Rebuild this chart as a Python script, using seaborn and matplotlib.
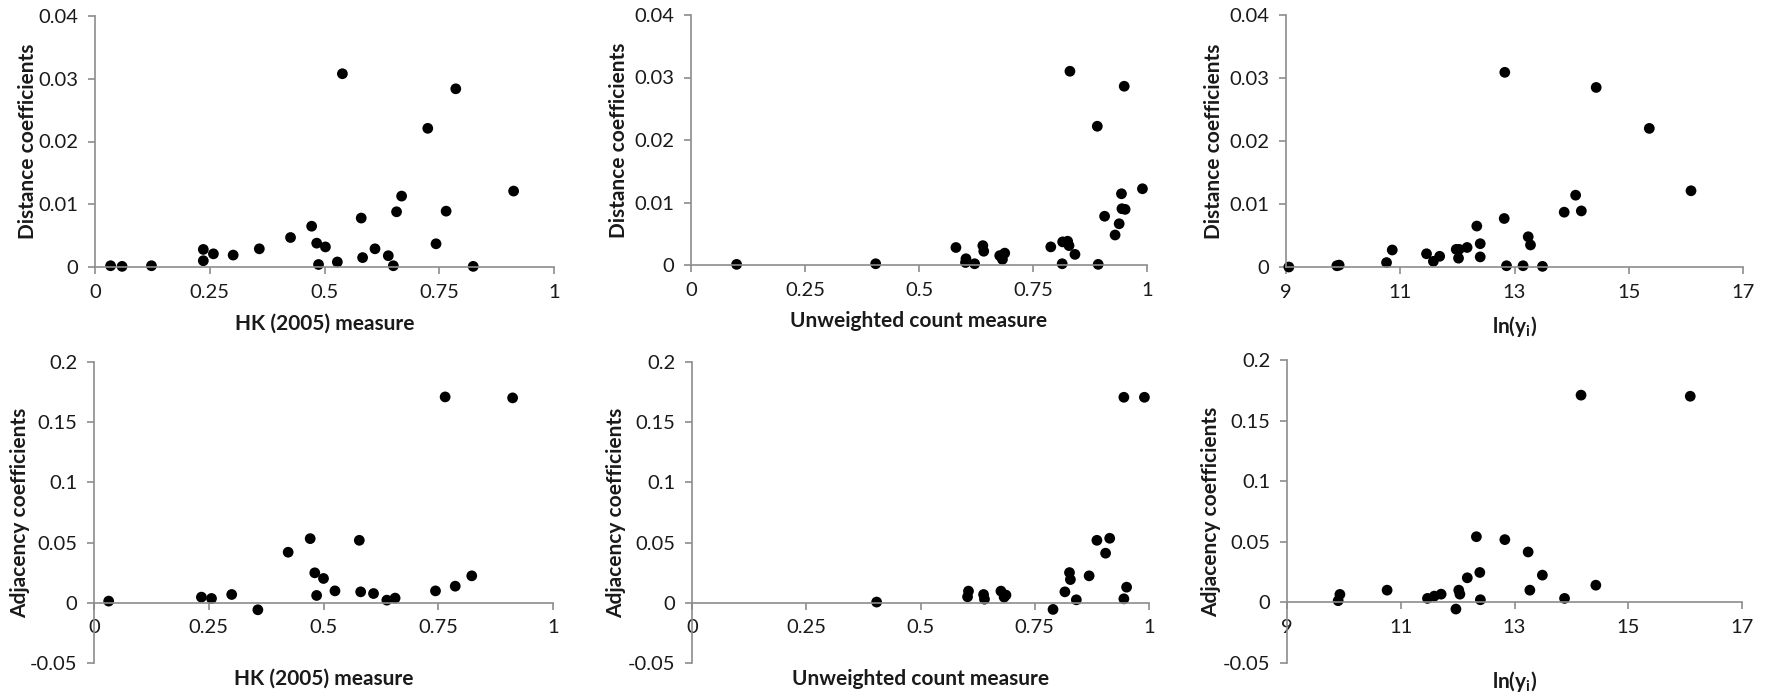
import matplotlib
matplotlib.use("Agg")
import matplotlib.pyplot as plt
import numpy as np
import pandas as pd
import seaborn as sns
from matplotlib.ticker import FuncFormatter

# top row: distance coefficients
hk_dist_x = [0.034, 0.059, 0.123, 0.236, 0.236, 0.258, 0.301, 0.358, 0.426, 0.472,
             0.483, 0.487, 0.502, 0.528, 0.539, 0.580, 0.583, 0.610, 0.639, 0.650,
             0.657, 0.668, 0.725, 0.743, 0.765, 0.786, 0.824, 0.912]
hk_dist_y = [0.0002, 0.0001, 0.0002, 0.0028, 0.0010, 0.0021, 0.0019, 0.0029, 0.0047, 0.0065,
             0.0038, 0.0004, 0.0032, 0.0008, 0.0308, 0.0078, 0.0015, 0.0029, 0.0018, 0.0002,
             0.0088, 0.0113, 0.0221, 0.0037, 0.0089, 0.0284, 0.0001, 0.0121]

cnt_dist_x = [0.100, 0.405, 0.581, 0.603, 0.602, 0.622, 0.640, 0.642, 0.677, 0.683,
              0.688, 0.789, 0.815, 0.826, 0.829, 0.814, 0.842, 0.831, 0.891, 0.893,
              0.907, 0.930, 0.939, 0.944, 0.945, 0.952, 0.950, 0.990]
cnt_dist_y = [0.0001, 0.0002, 0.0028, 0.0010, 0.0004, 0.0002, 0.0031, 0.0022, 0.0015, 0.0009,
              0.0019, 0.0029, 0.0037, 0.0038, 0.0031, 0.0002, 0.0017, 0.0310, 0.0222, 0.0001,
              0.0078, 0.0048, 0.0066, 0.0114, 0.0090, 0.0089, 0.0286, 0.0122]

lny_dist_x = [9.05, 9.89, 9.93, 10.76, 10.86, 11.46, 11.58, 11.69, 11.98, 12.03,
              12.02, 12.17, 12.34, 12.40, 12.40, 12.82, 12.83, 12.86, 13.15, 13.24,
              13.28, 13.49, 13.87, 14.07, 14.17, 14.43, 15.36, 16.09]
lny_dist_y = [0.0000, 0.0002, 0.0003, 0.0007, 0.0027, 0.0021, 0.0009, 0.0017, 0.0028, 0.0028,
              0.0014, 0.0031, 0.0065, 0.0037, 0.0016, 0.0077, 0.0309, 0.0002, 0.0002, 0.0048,
              0.0035, 0.0001, 0.0087, 0.0114, 0.0089, 0.0285, 0.0220, 0.0121]

# bottom row: adjacency coefficients
hk_adj_x = [0.032, 0.234, 0.256, 0.300, 0.357, 0.423, 0.471, 0.481, 0.485, 0.500,
            0.525, 0.578, 0.581, 0.609, 0.638, 0.656, 0.744, 0.765, 0.787, 0.823, 0.912]
hk_adj_y = [0.0014, 0.0047, 0.0036, 0.0069, -0.0058, 0.0420, 0.0533, 0.0249, 0.0061, 0.0202,
            0.0099, 0.0519, 0.0091, 0.0077, 0.0022, 0.0039, 0.0099, 0.1710, 0.0138, 0.0224, 0.1702]

cnt_adj_x = [0.404, 0.603, 0.605, 0.638, 0.640, 0.676, 0.683, 0.687, 0.790, 0.816,
             0.826, 0.828, 0.841, 0.869, 0.886, 0.905, 0.914, 0.945, 0.945, 0.951, 0.990]
cnt_adj_y = [0.0006, 0.0050, 0.0097, 0.0069, 0.0030, 0.0097, 0.0047, 0.0064, -0.0055, 0.0091,
             0.0251, 0.0193, 0.0025, 0.0224, 0.0519, 0.0412, 0.0536, 0.1707, 0.0033, 0.0130, 0.1707]

lny_adj_x = [9.90, 9.93, 10.76, 11.47, 11.59, 11.71, 11.97, 12.02, 12.04, 12.17,
             12.33, 12.39, 12.40, 12.83, 13.24, 13.27, 13.49, 13.88, 14.17, 14.43, 16.09]
lny_adj_y = [0.0014, 0.0066, 0.0101, 0.0033, 0.0052, 0.0068, -0.0055, 0.0101, 0.0068, 0.0203,
             0.0542, 0.0247, 0.0022, 0.0518, 0.0416, 0.0101, 0.0225, 0.0033, 0.1710, 0.0142, 0.1701]

hk_label = "HK (2005) measure"
cnt_label = "Unweighted count measure"
lny_label = r"ln(y$_\mathbf{i}$)"
dist_label = "Distance coefficients"
adj_label = "Adjacency coefficients"

sns.set_theme(style="white")
plt.rcParams['font.family'] = ['Lato', 'DejaVu Sans']
plt.rcParams['axes.unicode_minus'] = False
plt.rcParams['mathtext.fontset'] = 'custom'
plt.rcParams['mathtext.rm'] = 'Lato'
plt.rcParams['mathtext.bf'] = 'Lato:bold'

W, H = 1767, 694
fig = plt.figure(figsize=(W / 100, H / 100), dpi=100)

axis_col = "#8c8c8c"
text_col = "#1a1a1a"
fmt = FuncFormatter(lambda v, p: f"{v:g}")

panels = [
    # x, y, xlabel, ylabel, xlim, xstep, ylim, ystep, left, right, top, bottom (px), ylabel x
    (hk_dist_x, hk_dist_y, hk_label, dist_label, (0, 1), 0.25, (0, 0.04), 0.01, 95, 554, 16, 267, -0.125),
    (cnt_dist_x, cnt_dist_y, cnt_label, dist_label, (0, 1), 0.25, (0, 0.04), 0.01, 691, 1147, 15, 265, -0.135),
    (lny_dist_x, lny_dist_y, lny_label, dist_label, (9, 17), 2, (0, 0.04), 0.01, 1286, 1743, 15, 267, -0.135),
    (hk_adj_x, hk_adj_y, hk_label, adj_label, (0, 1), 0.25, (-0.05, 0.2), 0.05, 94, 553, 362, 663, -0.14),
    (cnt_adj_x, cnt_adj_y, cnt_label, adj_label, (0, 1), 0.25, (-0.05, 0.2), 0.05, 692, 1149, 362, 663, -0.145),
    (lny_adj_x, lny_adj_y, lny_label, adj_label, (9, 17), 2, (-0.05, 0.2), 0.05, 1287, 1742, 360, 663, -0.144),
]

for x, y, xlab, ylab, xlim, xstep, ylim, ystep, l, r, t, b, ylx in panels:
    ax = fig.add_axes([l / W, (H - b) / H, (r - l) / W, (b - t) / H])
    df = pd.DataFrame({"x": x, "y": y})
    sns.scatterplot(data=df, x="x", y="y", ax=ax, color="black", s=60,
                    edgecolor="none", clip_on=False)
    ax.set_xlim(*xlim)
    ax.set_ylim(*ylim)
    ax.set_xticks(np.arange(xlim[0], xlim[1] + xstep / 2, xstep))
    ax.set_yticks(np.arange(ylim[0], ylim[1] + ystep / 2, ystep))
    ax.xaxis.set_major_formatter(fmt)
    ax.yaxis.set_major_formatter(fmt)
    for s in ["top", "right"]:
        ax.spines[s].set_visible(False)
    for s in ["left", "bottom"]:
        ax.spines[s].set_color(axis_col)
        ax.spines[s].set_linewidth(1.2)
    ax.spines["bottom"].set_position(("data", 0))
    ax.tick_params(axis="both", which="both", direction="out", length=5, width=1.2,
                   color=axis_col, labelcolor=text_col, labelsize=14.5,
                   bottom=True, left=True)
    ax.tick_params(axis="x", pad=7)
    ax.tick_params(axis="y", pad=7)
    ax.set_xlabel(xlab, fontsize=15, fontweight="bold", color=text_col)
    ax.set_ylabel(ylab, fontsize=15, fontweight="bold", color=text_col)
    # labels sit below the plot area, not below the moved x axis
    ax.xaxis.set_label_coords(0.5, -0.185 if t < 100 else -0.02)
    ax.yaxis.set_label_coords(ylx, 0.5)
    ax.grid(False)

fig.savefig("out.png", dpi=100, facecolor="white")
